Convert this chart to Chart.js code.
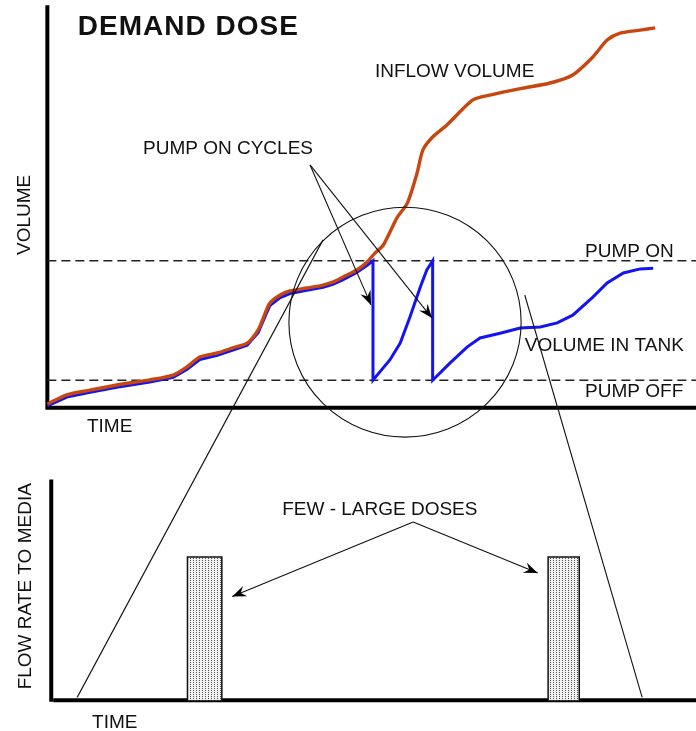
<!DOCTYPE html>
<html><head><meta charset="utf-8">
<script src="https://cdn.jsdelivr.net/npm/chart.js@4.4.1/dist/chart.umd.min.js"></script>
<style>html,body{margin:0;padding:0;background:#fff;overflow:hidden}canvas{display:block}</style>
</head><body>
<canvas id="c" width="696" height="731"></canvas>
<script>
// ---------------- DATA (time / volume units) ----------------
const inflowTime   = [0, 3.0, 6.6, 10.7, 15.8, 19.4, 21.5, 23.5, 26.2, 28.6, 30.8, 32.5, 33.6, 34.3, 35.9, 37.4, 40.0, 42.5, 44.0, 45.6, 47.7, 49.3, 50.5, 51.8, 53.9, 55.5, 57.0, 57.9, 59.4, 61.6, 65.6, 68.2, 73.3, 77.5, 81.0, 84.1, 86.3, 88.3, 91.4, 93.7];
const inflowVolume = [1.0, 3.5, 4.8, 6.2, 7.6, 8.9, 11.1, 13.8, 14.9, 16.3, 17.6, 21.2, 25.8, 28.5, 30.7, 31.8, 32.6, 33.4, 34.2, 35.6, 37.5, 39.7, 42.1, 44.3, 51.7, 55.7, 63.9, 70.2, 73.7, 77.0, 83.8, 85.1, 87.0, 88.4, 90.6, 95.5, 100.1, 102.0, 102.8, 103.4];

const tankTime   = [0, 3.0, 6.6, 10.7, 15.8, 19.4, 21.5, 23.5, 26.2, 28.6, 30.8, 32.5, 33.6, 34.3, 35.9, 37.4, 40.0, 42.5, 44.0, 45.6, 47.7, 49.3, 50.2, 50.2, 52.8, 54.4, 55.9, 57.5, 58.5, 59.4, 59.4, 62.1, 64.7, 66.7, 69.8, 72.9, 76.0, 78.6, 81.0, 84.1, 86.3, 88.8, 91.4, 93.4];
const tankVolume = [0.5, 2.9, 4.2, 5.6, 7.0, 8.3, 10.4, 13.1, 14.3, 15.7, 17.0, 20.4, 25.0, 27.8, 30.0, 31.1, 32.0, 32.8, 33.6, 34.9, 36.8, 38.8, 40.0, 7.5, 13.0, 17.6, 24.7, 32.9, 37.5, 40.0, 7.5, 12.2, 16.5, 19.0, 20.3, 21.7, 22.0, 23.1, 25.2, 30.1, 34.0, 36.7, 37.8, 38.0];

const pumpOnLevel  = 40;
const pumpOffLevel = 7.5;
const timeSpan     = [0, 100];

// flow rate to media (bottom panel)
const doseStart = [21.6, 77.2];
const doseEnd   = [26.9, 82.0];
const doseRate  = [9.8, 9.8];

// labels
const titleText   = "DEMAND DOSE";
const volumeTitle = "VOLUME";
const timeTitle   = "TIME";
const flowTitle   = "FLOW RATE TO MEDIA";
const inflowLabel = "INFLOW VOLUME";
const tankLabel   = "VOLUME IN TANK";
const pumpOnLabel = "PUMP ON";
const pumpOffLabel= "PUMP OFF";
const cyclesLabel = "PUMP ON CYCLES";
const dosesLabel  = "FEW - LARGE DOSES";

// ---------------- layout (scale ranges so both panels share one canvas) -------------
const X_RANGE = [-7.3, 100];
const V_RANGE = [-88, 111];
const F_RANGE = [-2.1, 47.9];
const VOL_AXIS_TOP = 109.6;
const FLOW_AXIS_TOP = 15.1;
const FLOW_AXIS_T = 0.6;

const ORANGE = '#c8460f';
const BLUE = '#1414f0';

function pts(xs, ys){ return xs.map((x,i)=>({x:x, y:ys[i]})); }

// stipple pattern for dose bars
function makePattern(){
  const p = document.createElement('canvas'); p.width = 3; p.height = 2;
  const g = p.getContext('2d');
  g.fillStyle = '#f2f2f2'; g.fillRect(0,0,3,2);
  g.fillStyle = '#555'; g.fillRect(1,0,1,1);
  return document.getElementById('c').getContext('2d').createPattern(p,'repeat');
}
const pattern = makePattern();

const datasets = [
  {label:'Inflow volume', data: pts(inflowTime, inflowVolume), yAxisID:'y', showLine:true,
   borderColor: ORANGE, borderWidth: 3.4, pointRadius:0, tension:0.25, fill:false},
  {label:'Volume in tank', data: pts(tankTime, tankVolume), yAxisID:'y', showLine:true,
   borderColor: BLUE, borderWidth: 3, pointRadius:0, tension:0, fill:false},
  {label:'Pump on', data: pts(timeSpan, [pumpOnLevel, pumpOnLevel]), yAxisID:'y', showLine:true,
   borderColor:'#222', borderWidth:1.5, borderDash:[9,5], pointRadius:0, fill:false},
  {label:'Pump off', data: pts(timeSpan, [pumpOffLevel, pumpOffLevel]), yAxisID:'y', showLine:true,
   borderColor:'#222', borderWidth:1.5, borderDash:[9,5], pointRadius:0, fill:false},
];
doseStart.forEach((s,i)=>{
  datasets.push({label:'Dose '+(i+1), yAxisID:'yf', showLine:true, pointRadius:0, tension:0,
    data: pts([s, s, doseEnd[i], doseEnd[i]], [0, doseRate[i], doseRate[i], 0]),
    borderColor:'#111', borderWidth:1.5, backgroundColor: pattern, fill:'origin'});
});

// ---------------- annotation plugin ----------------
const annot = {
  id:'annot',
  beforeDatasetsDraw(chart){
    const c = chart.ctx, sx = chart.scales.x, sy = chart.scales.y, sf = chart.scales.yf;
    c.save();
    c.strokeStyle = '#000'; c.lineWidth = 4; c.lineCap = 'butt';
    // top axes
    c.beginPath();
    c.moveTo(sx.getPixelForValue(0), sy.getPixelForValue(VOL_AXIS_TOP));
    c.lineTo(sx.getPixelForValue(0), sy.getPixelForValue(0));
    c.lineTo(sx.getPixelForValue(timeSpan[1]), sy.getPixelForValue(0));
    c.stroke();
    // bottom axes
    c.beginPath();
    c.moveTo(sx.getPixelForValue(FLOW_AXIS_T), sf.getPixelForValue(FLOW_AXIS_TOP));
    c.lineTo(sx.getPixelForValue(FLOW_AXIS_T), sf.getPixelForValue(-0.1));
    c.stroke();
    c.beginPath();
    c.moveTo(sx.getPixelForValue(FLOW_AXIS_T+0.3), sf.getPixelForValue(0));
    c.lineTo(sx.getPixelForValue(timeSpan[1]), sf.getPixelForValue(0));
    c.stroke();
    c.restore();
  },
  afterDatasetsDraw(chart){
    const c = chart.ctx, sx = chart.scales.x, sy = chart.scales.y, sf = chart.scales.yf;
    const X = t=>sx.getPixelForValue(t), Y = v=>sy.getPixelForValue(v), F = f=>sf.getPixelForValue(f);
    c.save();
    c.strokeStyle = '#111'; c.fillStyle = '#000'; c.lineWidth = 1.1;
    // magnifier circle
    const cx = 55.14, cy = 23.3, rt = 17.9, rv = 31.3;
    c.beginPath();
    c.ellipse(X(cx), Y(cy), X(cx+rt)-X(cx), Y(cy)-Y(cy+rv), 0, 0, Math.PI*2);
    c.stroke();
    // zoom lines from circle to the flow panel
    c.beginPath(); c.moveTo(X(42.5), Y(45.7)); c.lineTo(X(4.6), F(0.2)); c.stroke();
    c.beginPath(); c.moveTo(X(73.6), Y(30.7)); c.lineTo(X(91.7), F(0.2)); c.stroke();

    function arrow(x0,y0,x1,y1){
      c.beginPath(); c.moveTo(x0,y0); c.lineTo(x1,y1); c.stroke();
      const a = Math.atan2(y1-y0, x1-x0), L = 14, w = 5.5;
      const ca = Math.cos(a), sa = Math.sin(a);
      c.beginPath();
      c.moveTo(x1,y1);
      c.lineTo(x1-L*ca+w*sa, y1-L*sa-w*ca);
      c.lineTo(x1-0.65*L*ca, y1-0.65*L*sa);
      c.lineTo(x1-L*ca-w*sa, y1-L*sa+w*ca);
      c.closePath(); c.fill();
    }
    // pump on cycles arrows
    arrow(X(40.5), Y(66.1), X(49.9), Y(28.0));
    arrow(X(40.5), Y(66.1), X(59.3), Y(24.4));
    // doses arrows
    arrow(X(56.4), F(12.2), X(28.5), F(7.1));
    arrow(X(56.4), F(12.2), X(75.6), F(8.7));

    // texts
    c.fillStyle = '#111'; c.textBaseline = 'alphabetic'; c.textAlign = 'left';
    c.font = 'bold 28px "Liberation Sans", Arial, sans-serif';
    try { c.letterSpacing = '1px'; } catch(e) {}
    c.fillText(titleText, X(4.7), Y(101.5));
    try { c.letterSpacing = '0px'; } catch(e) {}
    c.font = '19px "Liberation Sans", Arial, sans-serif';
    c.fillText(inflowLabel, X(50.5), Y(90.0));
    c.fillText(cyclesLabel, X(14.75), Y(69.1));
    c.fillText(pumpOnLabel, X(82.9), Y(41.0));
    c.fillText(tankLabel, X(73.6), Y(15.45));
    c.fillText(pumpOffLabel, X(82.9), Y(2.9));
    c.fillText(timeTitle, X(6.1), Y(-6.6));
    c.fillText(dosesLabel, X(36.2), F(12.7));
    c.fillText(timeTitle, X(6.9), F(-1.9));
    // rotated axis titles
    c.textAlign = 'center'; c.textBaseline = 'middle';
    c.save(); c.translate(X(-3.5), Y(52.5)); c.rotate(-Math.PI/2); c.fillText(volumeTitle, 0, 0); c.restore();
    c.save(); c.translate(X(-3.35), F(7.8)); c.rotate(-Math.PI/2); c.fillText(flowTitle, 0, 0); c.restore();
    c.restore();
  }
};

new Chart(document.getElementById('c'), {
  type:'scatter',
  data:{datasets},
  options:{
    responsive:false, animation:false, devicePixelRatio:1,
    layout:{padding:0},
    plugins:{legend:{display:false}, tooltip:{enabled:false}, title:{display:false}},
    scales:{
      x:{type:'linear', min:X_RANGE[0], max:X_RANGE[1], display:false},
      y:{type:'linear', min:V_RANGE[0], max:V_RANGE[1], display:false},
      yf:{type:'linear', min:F_RANGE[0], max:F_RANGE[1], display:false}
    }
  },
  plugins:[annot]
});
</script>
</body></html>
